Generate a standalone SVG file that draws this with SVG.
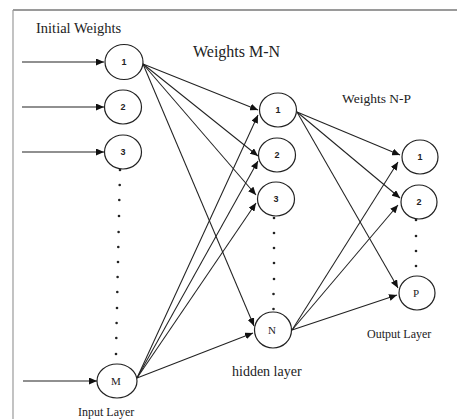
<svg xmlns="http://www.w3.org/2000/svg" width="457" height="419" viewBox="0 0 457 419">
<style>
.frame{stroke:#9a9a9a;fill:none}
.node{fill:#fff;stroke:#222;stroke-width:1.2}
.edge{stroke:#222;stroke-width:1.05;fill:none}
.num{font-family:"Liberation Sans",Arial,sans-serif;font-weight:bold;font-size:9px;fill:#222;text-anchor:middle}
.let{font-family:"Liberation Serif","Times New Roman",serif;font-size:11px;fill:#222;text-anchor:middle}
.lbl{font-family:"Liberation Serif","Times New Roman",serif;fill:#222}
.dot{fill:#222}
</style>
<defs>
<marker id="arr" markerUnits="userSpaceOnUse" markerWidth="9" markerHeight="7" refX="8" refY="3.5" orient="auto">
<path d="M0,0 L8,3.5 L0,7 z" fill="#111"/>
</marker>
</defs>
<rect width="457" height="419" fill="#fff"/>
<line class="frame" x1="13" y1="10" x2="457" y2="10" stroke-width="2" stroke="#bdbdbd"/>
<line class="frame" x1="13" y1="10" x2="13" y2="419" stroke-width="1.2"/>

<g id="connectors">
<line class="edge" x1="22" y1="62" x2="104" y2="62" marker-end="url(#arr)"/>
<line class="edge" x1="22" y1="107" x2="104" y2="107" marker-end="url(#arr)"/>
<line class="edge" x1="22" y1="152" x2="104" y2="152" marker-end="url(#arr)"/>
<line class="edge" x1="23" y1="381" x2="97" y2="381" marker-end="url(#arr)"/>
<line class="edge" x1="143" y1="64" x2="258" y2="110" marker-end="url(#arr)"/>
<line class="edge" x1="143" y1="64" x2="258" y2="156" marker-end="url(#arr)"/>
<line class="edge" x1="143" y1="64" x2="256" y2="195" marker-end="url(#arr)"/>
<line class="edge" x1="143" y1="64" x2="254" y2="326" marker-end="url(#arr)"/>
<line class="edge" x1="137" y1="378" x2="258" y2="115" marker-end="url(#arr)"/>
<line class="edge" x1="137" y1="378" x2="258" y2="161" marker-end="url(#arr)"/>
<line class="edge" x1="137" y1="378" x2="256" y2="203" marker-end="url(#arr)"/>
<line class="edge" x1="137" y1="378" x2="253" y2="333" marker-end="url(#arr)"/>
<line class="edge" x1="297" y1="112" x2="400" y2="155" marker-end="url(#arr)"/>
<line class="edge" x1="297" y1="112" x2="400" y2="198" marker-end="url(#arr)"/>
<line class="edge" x1="297" y1="112" x2="398" y2="288" marker-end="url(#arr)"/>
<line class="edge" x1="292" y1="330" x2="398" y2="162" marker-end="url(#arr)"/>
<line class="edge" x1="292" y1="330" x2="398" y2="205" marker-end="url(#arr)"/>
<line class="edge" x1="292" y1="330" x2="397" y2="295" marker-end="url(#arr)"/>
</g>

<g id="dots">
<circle class="dot" cx="120" cy="170" r="1.3"/>
<circle class="dot" cx="119.7" cy="185" r="1.3"/>
<circle class="dot" cx="119.3" cy="200" r="1.3"/>
<circle class="dot" cx="119" cy="216" r="1.3"/>
<circle class="dot" cx="118.6" cy="232" r="1.3"/>
<circle class="dot" cx="118.3" cy="247" r="1.3"/>
<circle class="dot" cx="118" cy="262" r="1.3"/>
<circle class="dot" cx="117.6" cy="277" r="1.3"/>
<circle class="dot" cx="117.3" cy="292" r="1.3"/>
<circle class="dot" cx="117" cy="308" r="1.3"/>
<circle class="dot" cx="116.6" cy="323" r="1.3"/>
<circle class="dot" cx="116.3" cy="338" r="1.3"/>
<circle class="dot" cx="116" cy="354" r="1.3"/>
<circle class="dot" cx="274" cy="218" r="1.3"/>
<circle class="dot" cx="274" cy="233" r="1.3"/>
<circle class="dot" cx="274" cy="248" r="1.3"/>
<circle class="dot" cx="274" cy="263" r="1.3"/>
<circle class="dot" cx="274" cy="279" r="1.3"/>
<circle class="dot" cx="273.5" cy="294" r="1.3"/>
<circle class="dot" cx="273.5" cy="309" r="1.3"/>
<circle class="dot" cx="416" cy="220" r="1.3"/>
<circle class="dot" cx="416" cy="236" r="1.3"/>
<circle class="dot" cx="416" cy="251" r="1.3"/>
<circle class="dot" cx="416" cy="266" r="1.3"/>
</g>

<g id="in1"><ellipse class="node" cx="124" cy="62" rx="19" ry="17.5"/><text class="num" x="124" y="65">1</text></g>
<g id="in2"><ellipse class="node" cx="123" cy="107" rx="18.5" ry="17"/><text class="num" x="123" y="110">2</text></g>
<g id="in3"><ellipse class="node" cx="123" cy="152" rx="18.5" ry="17"/><text class="num" x="123" y="155">3</text></g>
<g id="inM"><ellipse class="node" cx="117" cy="381" rx="20" ry="17"/><text class="let" x="116" y="385">M</text></g>

<g id="h1"><ellipse class="node" cx="278" cy="110" rx="18.5" ry="17"/><text class="num" x="278" y="113">1</text></g>
<g id="h2"><ellipse class="node" cx="277" cy="155" rx="18.5" ry="17"/><text class="num" x="277" y="158">2</text></g>
<g id="h3"><ellipse class="node" cx="276" cy="199" rx="18.5" ry="17"/><text class="num" x="276" y="202">3</text></g>
<g id="hN"><ellipse class="node" cx="273" cy="330" rx="18.5" ry="18"/><text class="let" x="272" y="334">N</text></g>

<g id="o1"><ellipse class="node" cx="420" cy="157" rx="18" ry="17"/><text class="num" x="420" y="160">1</text></g>
<g id="o2"><ellipse class="node" cx="419" cy="202" rx="18" ry="17"/><text class="num" x="419" y="205">2</text></g>
<g id="oP"><ellipse class="node" cx="417" cy="293" rx="18" ry="17"/><text class="let" x="416" y="297">P</text></g>

<g id="labels">
<text class="lbl" x="36" y="33" font-size="14.5">Initial Weights</text>
<text class="lbl" x="193" y="57" font-size="16">Weights M-N</text>
<text class="lbl" x="342" y="103" font-size="13.5">Weights N-P</text>
<text class="lbl" x="232" y="376" font-size="14">hidden layer</text>
<text class="lbl" x="367" y="338" font-size="12">Output Layer</text>
<text class="lbl" x="78" y="415.5" font-size="12">Input Layer</text>
</g>
</svg>
